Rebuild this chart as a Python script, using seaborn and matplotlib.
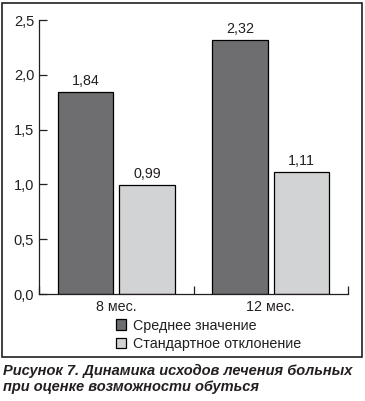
import matplotlib
matplotlib.use("Agg")
import matplotlib.pyplot as plt
import matplotlib.patches as mpatches
import pandas as pd
import seaborn as sns
from matplotlib.ticker import FuncFormatter, FixedLocator

periods = ["8 мес.", "12 мес."]
series = ["Среднее значение", "Стандартное отклонение"]
mean_values = [1.84, 2.32]
std_values = [0.99, 1.11]
colors = ["#6d6e71", "#d1d3d4"]
caption = "Рисунок 7. Динамика исходов лечения больных\nпри оценке возможности обуться"

df = pd.DataFrame({
    "period": periods * 2,
    "series": [series[0]] * 2 + [series[1]] * 2,
    "value": mean_values + std_values,
})

sns.set_style("white")
plt.rcParams["font.family"] = ["Liberation Sans", "DejaVu Sans"]

fig = plt.figure(figsize=(3.65, 4.01), dpi=100)
ax = fig.add_axes([39 / 365, 1 - 294 / 401, (348 - 39) / 365, (294 - 20) / 401])

sns.barplot(
    df, ax=ax,
    x="period", y="value", hue="series",
    order=periods, hue_order=series,
    palette=colors, width=0.8, gap=0.1,
    edgecolor="black", linewidth=0.9,
    legend=False,
)

for cont in ax.containers:
    ax.bar_label(cont, labels=[f"{v:.2f}".replace(".", ",") for v in cont.datavalues],
                 padding=3, fontsize=10.3, color="#231f20")

ax.set_ylim(0, 2.5)
ax.set_xlim(-0.5, 1.5)
ax.set_yticks([0, 0.5, 1.0, 1.5, 2.0, 2.5])
ax.yaxis.set_major_formatter(FuncFormatter(lambda v, _: f"{v:.1f}".replace(".", ",")))
ax.tick_params(axis="y", direction="in", length=6, width=0.9, labelsize=10.5,
               colors="#231f20", left=True, pad=3.5)

ax.xaxis.set_major_locator(FixedLocator([-0.5, 0.5, 1.5]))
ax.xaxis.set_minor_locator(FixedLocator([0, 1]))
ax.set_xticklabels([], minor=False)
ax.set_xticklabels(periods, minor=True)
ax.tick_params(axis="x", which="major", direction="in", length=6, width=0.9,
               bottom=True, color="#231f20")
ax.tick_params(axis="x", which="minor", length=0, labelsize=10.3, pad=4,
               labelcolor="#231f20")
ax.set_xlabel("")
ax.set_ylabel("")

for side in ["top", "right"]:
    ax.spines[side].set_visible(False)
for side in ["left", "bottom"]:
    ax.spines[side].set_linewidth(0.9)
    ax.spines[side].set_color("#231f20")

handles = [mpatches.Patch(facecolor=c, edgecolor="black", linewidth=0.9) for c in colors]
fig.legend(handles, series, loc="upper left", bbox_to_anchor=(110 / 365, 1 - 313 / 401),
           frameon=False, fontsize=10.3, handlelength=0.75, handleheight=0.75,
           handletextpad=0.45, labelspacing=0.3, borderaxespad=0, labelcolor="#231f20")

border = mpatches.Rectangle((2 / 365, 1 - 357 / 401), 360 / 365, 354 / 401,
                            transform=fig.transFigure, fill=False,
                            edgecolor="#231f20", linewidth=1.2)
fig.patches.append(border)

fig.text(3 / 365, 1 - 364 / 401, caption, ha="left", va="top", fontsize=10.5,
         fontweight="bold", fontstyle="italic", color="#231f20", linespacing=1.2)

fig.savefig("out.png", dpi=100)
